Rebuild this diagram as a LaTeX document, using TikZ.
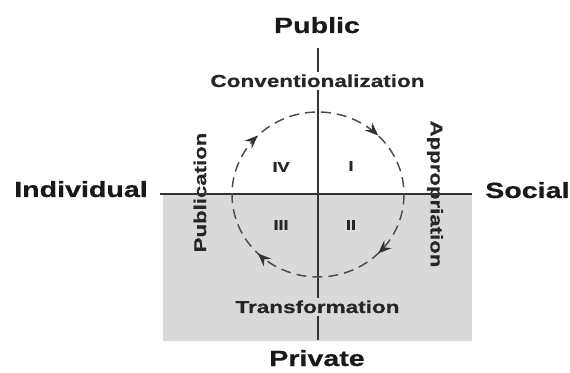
\documentclass[tikz,border=0pt]{standalone}
\usepackage{fontspec}
\setmainfont{Liberation Sans}
\newfontfamily\labfont[FakeStretch=1.3, BoldFeatures={FakeBold=0.6}]{Liberation Sans}
\usetikzlibrary{arrows.meta,decorations.markings}
\begin{document}
\begin{tikzpicture}[x=0.75pt,y=-0.75pt,
  big/.style={font=\labfont\bfseries\fontsize{16.5}{18}\selectfont, inner sep=0pt, anchor=base, text=black!90},
  small/.style={font=\labfont\bfseries\fontsize{13}{14}\selectfont, inner sep=2pt, anchor=base, text=black!85},
  side/.style={font=\labfont\bfseries\fontsize{12.8}{14}\selectfont, inner sep=0pt, text=black!85},
  num/.style={font=\labfont\bfseries\fontsize{10.5}{12}\selectfont, inner sep=0pt, text=black!85},
  axis/.style={draw=black!80, line width=0.8pt},
  tipmark/.style={solid, fill=black!80, draw=black!80},
  cyc/.style={draw=black!70, line width=1.1pt, dash pattern=on 7.5pt off 4.5pt}]
\useasboundingbox (0,0) rectangle (570,373);
\fill[black!15] (163,194) rectangle (472,341);
% labels
\node[big] (pub) at (317,33) {Public};
\node[big] (priv) at (317,366) {Private};
\node[big, anchor=base east] (ind) at (148,197) {Individual};
\node[big, anchor=base west] (soc) at (485,198) {Social};
\node[small] (conv) at (317.5,87) {Conventionalization};
\node[small] (trans) at (317.5,313) {Transformation};
\node[side, rotate=90] (publ) at (200,192.5) {Publication};
\node[side, rotate=-90] (appr) at (435,194) {Appropriation};
\node[num] (q4) at (281,167) {IV};
\node[num] (q1) at (351,166) {I};
\node[num] (q3) at (281,225) {III};
\node[num] (q2) at (351,225) {II};
% axes
\coordinate (vtop) at (318,48);
\coordinate (vbot) at (318,340);
\coordinate (hl) at (160,194);
\coordinate (hr) at (472,194);
\draw[axis] (vtop) -- (vtop |- conv.north);
\draw[axis] (vtop |- conv.south) -- (vtop |- trans.north);
\draw[axis] (vtop |- trans.south) -- (vbot);
\draw[axis] (hl) -- (hr);
% cycle
\coordinate (c) at (318,194.5);
\draw[cyc, postaction={decorate}, decoration={markings,
  mark=at position 0.125 with {\arrow[tipmark]{Stealth[length=10pt,width=8pt,inset=3.5pt]}},
  mark=at position 0.375 with {\arrow[tipmark]{Stealth[length=10pt,width=8pt,inset=3.5pt]}},
  mark=at position 0.625 with {\arrow[tipmark]{Stealth[length=10pt,width=8pt,inset=3.5pt]}},
  mark=at position 0.875 with {\arrow[tipmark]{Stealth[length=10pt,width=8pt,inset=3.5pt]}}}]
  (c) ellipse [x radius=86, y radius=82.5];
\end{tikzpicture}
\end{document}
